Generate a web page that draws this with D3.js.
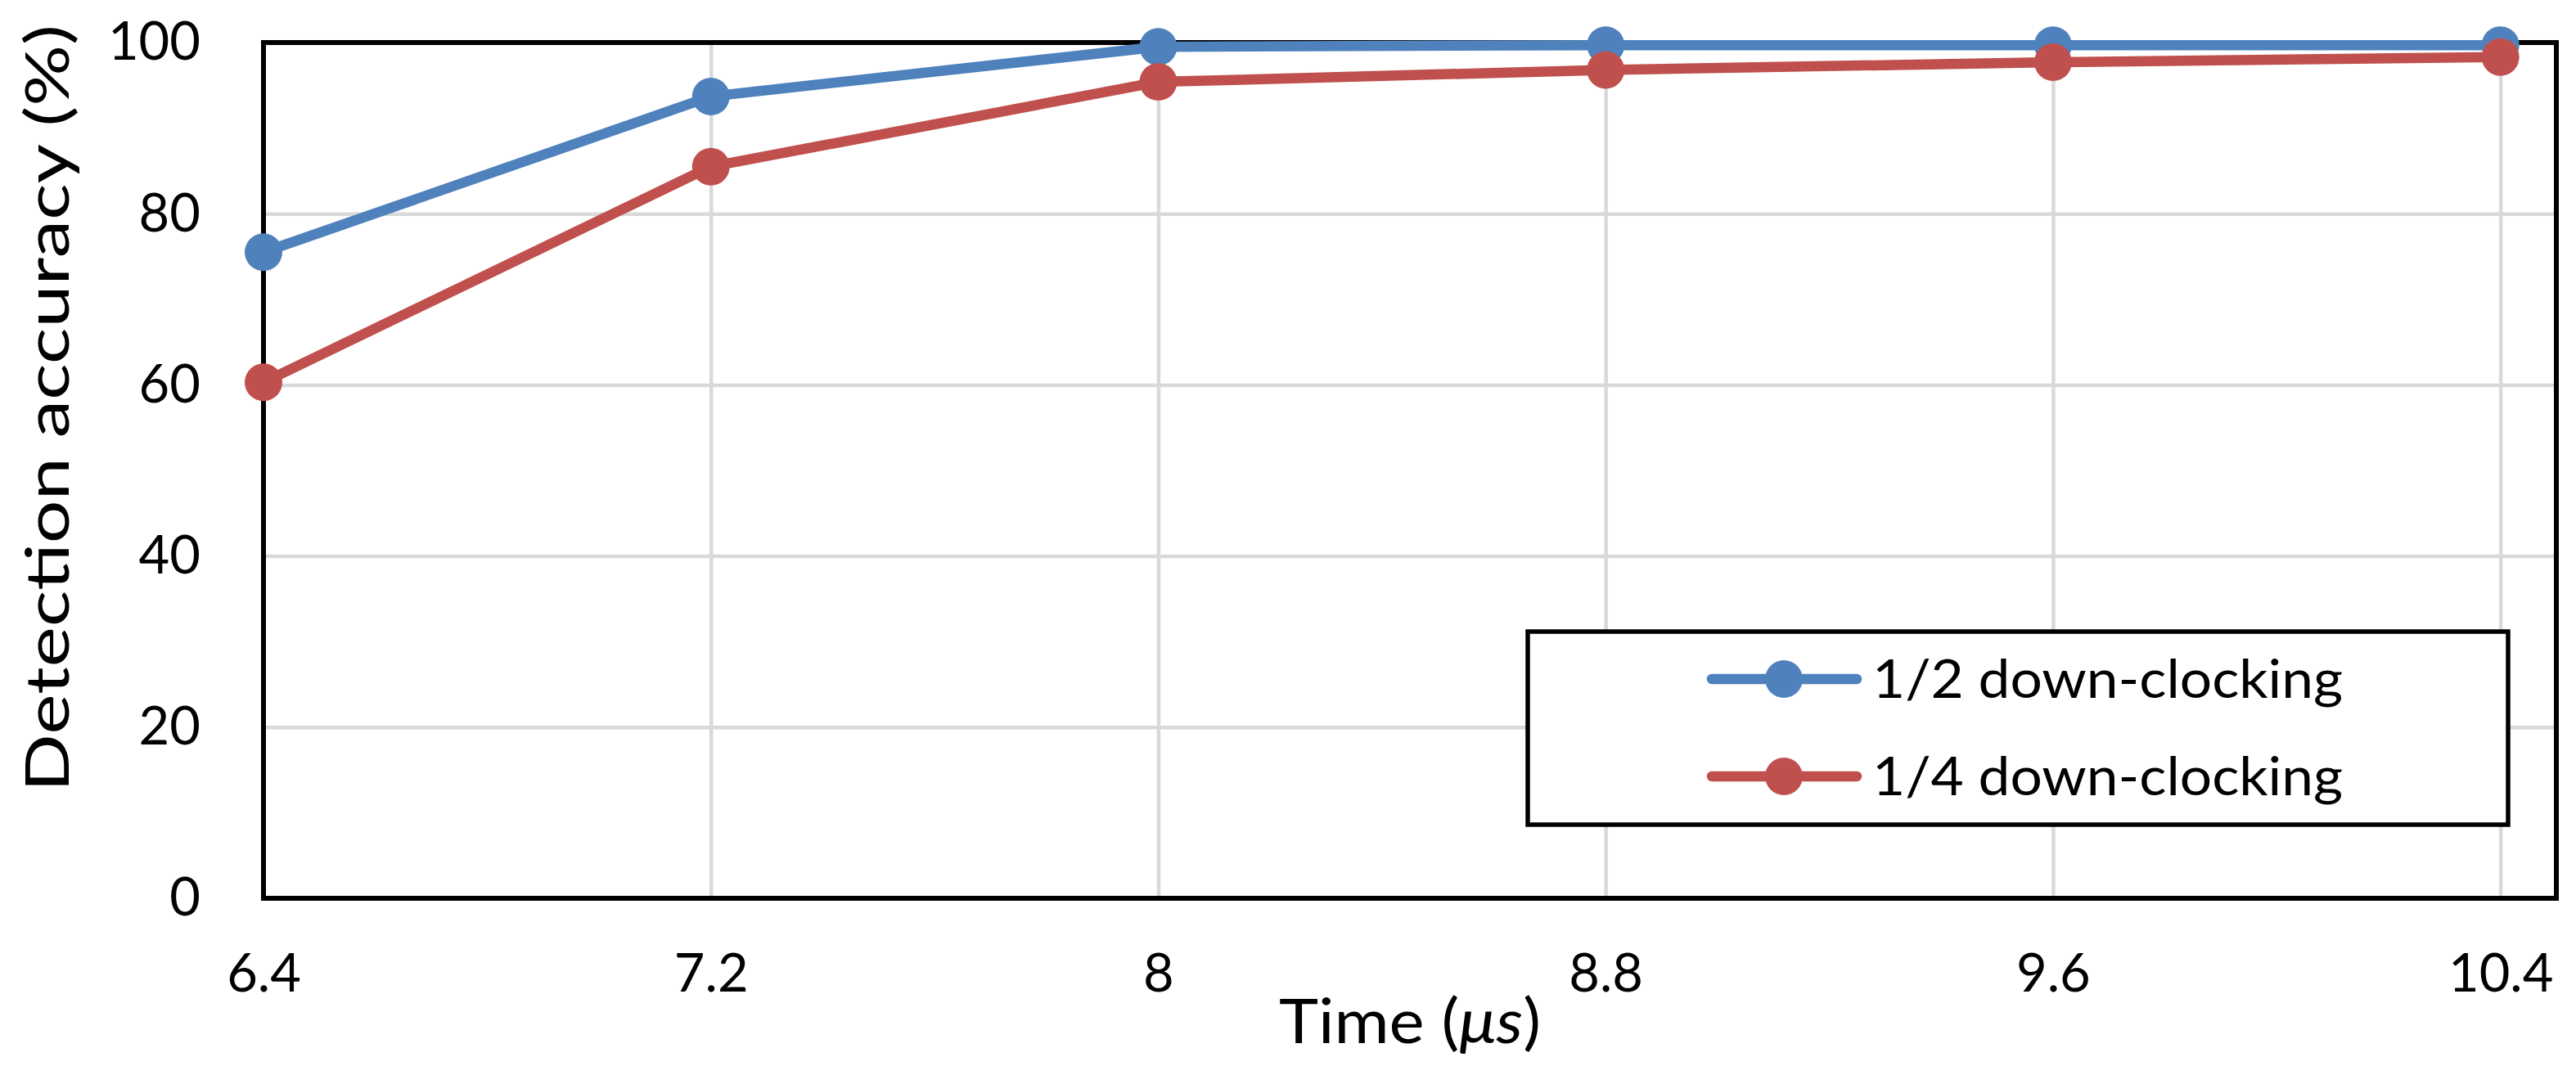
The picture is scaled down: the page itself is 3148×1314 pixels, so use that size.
<!DOCTYPE html>
<html>
<head>
<meta charset="utf-8">
<script src="https://cdn.jsdelivr.net/npm/d3@7"></script>
<style>
  body { margin: 0; background: #fff; }
  svg text { font-family: Lato, "Open Sans", sans-serif; fill: #000; }
  .grid line { stroke: #d9d9d9; stroke-width: 4.5; }
  .grid path { display: none; }
  .axis path, .axis line { display: none; }
</style>
</head>
<body>
<svg class="plot" width="3148" height="1314"></svg>
<script>
  var width = 3148
  var height = 1314

  // data
  const times = [6.4, 7.2, 8, 8.8, 9.6, 10.4]
  const halfClock = [75.5, 93.7, 99.5, 99.7, 99.7, 99.7]
  const quarterClock = [60.3, 85.5, 95.4, 96.8, 97.7, 98.3]
  const yTicks = [0, 20, 40, 60, 80, 100]
  const seriesNames = ["1/2 down-clocking", "1/4 down-clocking"]
  const seriesColors = ["#4F81BD", "#C0504D"]

  var margin = { top: 52, right: 24, bottom: 216, left: 322 }
  var chart_width = width - margin.left - margin.right
  var chart_height = height - margin.top - margin.bottom

  const svg = d3.select("svg.plot")
  const g = svg.append("g").attr("transform", "translate(" + margin.left + "," + margin.top + ")")

  const xScale = d3.scaleLinear().domain([6.4, 10.5]).range([0, chart_width])
  const yScale = d3.scaleLinear().domain([0, 100]).range([chart_height, 0])

  // gridlines
  g.append("g")
    .attr("class", "grid")
    .call(d3.axisLeft(yScale).tickValues(yTicks).tickFormat("").tickSize(-chart_width))
  g.append("g")
    .attr("class", "grid")
    .attr("transform", "translate(0," + chart_height + ")")
    .call(d3.axisBottom(xScale).tickValues(times).tickFormat("").tickSize(-chart_height))

  // plot frame
  g.append("rect")
    .attr("x", 0).attr("y", 0)
    .attr("width", chart_width).attr("height", chart_height)
    .attr("fill", "none").attr("stroke", "#000").attr("stroke-width", 6)

  // tick labels
  g.append("g")
    .attr("class", "axis")
    .call(d3.axisLeft(yScale).tickValues(yTicks).tickSize(0).tickPadding(77))
    .selectAll("text").style("font-size", "65px").style("font-family", "Lato")
  g.append("g")
    .attr("class", "axis")
    .attr("transform", "translate(0," + chart_height + ")")
    .call(d3.axisBottom(xScale).tickValues(times).tickFormat(d3.format("")).tickSize(0).tickPadding(68))
    .selectAll("text").style("font-size", "65px").style("font-family", "Lato")

  // series
  const series = [halfClock, quarterClock]
  const line = d3.line().x((d, i) => xScale(times[i])).y(d => yScale(d))
  series.forEach((vals, s) => {
    g.append("path")
      .datum(vals)
      .attr("d", line)
      .attr("fill", "none")
      .attr("stroke", seriesColors[s])
      .attr("stroke-width", 12.5)
      .attr("stroke-linejoin", "round")
    g.selectAll("circle.s" + s)
      .data(vals)
      .enter().append("circle")
      .attr("class", "s" + s)
      .attr("cx", (d, i) => xScale(times[i]))
      .attr("cy", d => yScale(d))
      .attr("r", 23)
      .attr("fill", seriesColors[s])
  })

  // axis titles (stretched to the original's wider glyphs)
  svg.append("text")
    .attr("x", margin.left + chart_width / 2)
    .attr("y", 1275)
    .attr("text-anchor", "middle")
    .attr("textLength", 320)
    .attr("lengthAdjust", "spacingAndGlyphs")
    .style("font-size", "76px")
    .html('Time (<tspan font-style="italic">μs</tspan>)')
  svg.append("text")
    .attr("transform", "translate(84," + 499 + ") rotate(-90)")
    .attr("text-anchor", "middle")
    .attr("textLength", 938)
    .attr("lengthAdjust", "spacingAndGlyphs")
    .style("font-size", "74px")
    .text("Detection accuracy (%)")

  // legend
  const legend = svg.append("g")
  legend.append("rect")
    .attr("x", 1867).attr("y", 772)
    .attr("width", 1198).attr("height", 236)
    .attr("fill", "#fff").attr("stroke", "#000").attr("stroke-width", 5.5)
  seriesNames.forEach((name, s) => {
    var ly = 830 + s * 119
    legend.append("line")
      .attr("x1", 2092).attr("x2", 2269)
      .attr("y1", ly).attr("y2", ly)
      .attr("stroke", seriesColors[s]).attr("stroke-width", 12.5)
      .attr("stroke-linecap", "round")
    legend.append("circle")
      .attr("cx", 2180).attr("cy", ly).attr("r", 23)
      .attr("fill", seriesColors[s])
    legend.append("text")
      .attr("x", 2288).attr("y", ly)
      .attr("dy", "0.35em")
      .attr("textLength", 575)
      .attr("lengthAdjust", "spacingAndGlyphs")
      .style("font-size", "66px")
      .text(name)
  })
</script>
</body>
</html>
